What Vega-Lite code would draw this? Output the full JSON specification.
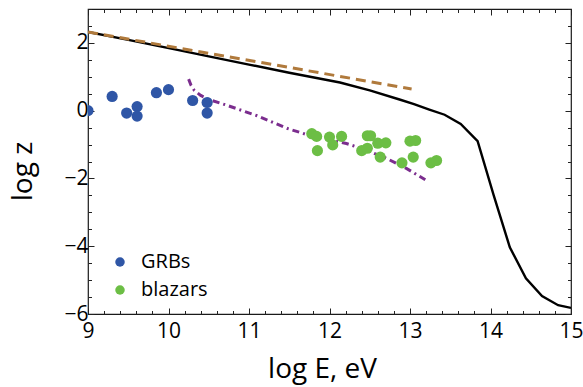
{
  "$schema": "https://vega.github.io/schema/vega-lite/v6.json",
  "width": 483,
  "height": 305,
  "autosize": {"type": "none"},
  "padding": {"left": 88, "top": 9, "right": 12, "bottom": 73},
  "config": {
    "font": "Open Sans",
    "view": {"stroke": "#1a1a1a", "strokeWidth": 1.2}
  },
  "datasets": {
    "curves": [
      {"curve": "model", "x": 9.0, "y": 2.32},
      {"curve": "model", "x": 9.5, "y": 2.09},
      {"curve": "model", "x": 10.08, "y": 1.81},
      {"curve": "model", "x": 10.5, "y": 1.6},
      {"curve": "model", "x": 11.0, "y": 1.36},
      {"curve": "model", "x": 11.5, "y": 1.12},
      {"curve": "model", "x": 12.13, "y": 0.83},
      {"curve": "model", "x": 12.5, "y": 0.6},
      {"curve": "model", "x": 12.87, "y": 0.33},
      {"curve": "model", "x": 13.05, "y": 0.19},
      {"curve": "model", "x": 13.24, "y": 0.03},
      {"curve": "model", "x": 13.43, "y": -0.12},
      {"curve": "model", "x": 13.63, "y": -0.39},
      {"curve": "model", "x": 13.84, "y": -0.9},
      {"curve": "model", "x": 14.04, "y": -2.5},
      {"curve": "model", "x": 14.24, "y": -4.03},
      {"curve": "model", "x": 14.44, "y": -4.95},
      {"curve": "model", "x": 14.64, "y": -5.47},
      {"curve": "model", "x": 14.84, "y": -5.74},
      {"curve": "model", "x": 15.0, "y": -5.82},
      {"curve": "fit", "x": 9.0, "y": 2.32},
      {"curve": "fit", "x": 13.02, "y": 0.64},
      {"curve": "blazarfit", "x": 10.25, "y": 0.93},
      {"curve": "blazarfit", "x": 10.28, "y": 0.75},
      {"curve": "blazarfit", "x": 10.32, "y": 0.6},
      {"curve": "blazarfit", "x": 10.4, "y": 0.45},
      {"curve": "blazarfit", "x": 10.5, "y": 0.33},
      {"curve": "blazarfit", "x": 10.7, "y": 0.18},
      {"curve": "blazarfit", "x": 11.1, "y": -0.15},
      {"curve": "blazarfit", "x": 11.47, "y": -0.52},
      {"curve": "blazarfit", "x": 11.71, "y": -0.7},
      {"curve": "blazarfit", "x": 12.21, "y": -0.97},
      {"curve": "blazarfit", "x": 12.42, "y": -1.13},
      {"curve": "blazarfit", "x": 12.71, "y": -1.41},
      {"curve": "blazarfit", "x": 12.96, "y": -1.71},
      {"curve": "blazarfit", "x": 13.19, "y": -2.04}
    ],
    "points": [
      {"type": "GRBs", "x": 9.0, "y": 0.0},
      {"type": "GRBs", "x": 9.3, "y": 0.42},
      {"type": "GRBs", "x": 9.48, "y": -0.07},
      {"type": "GRBs", "x": 9.61, "y": 0.12},
      {"type": "GRBs", "x": 9.61, "y": -0.16},
      {"type": "GRBs", "x": 9.85, "y": 0.53},
      {"type": "GRBs", "x": 10.0, "y": 0.62},
      {"type": "GRBs", "x": 10.3, "y": 0.3},
      {"type": "GRBs", "x": 10.48, "y": 0.24},
      {"type": "GRBs", "x": 10.48, "y": -0.07},
      {"type": "blazars", "x": 11.78, "y": -0.68},
      {"type": "blazars", "x": 11.84, "y": -0.76},
      {"type": "blazars", "x": 11.85, "y": -1.18},
      {"type": "blazars", "x": 12.0, "y": -0.78},
      {"type": "blazars", "x": 12.04, "y": -1.01},
      {"type": "blazars", "x": 12.15, "y": -0.76},
      {"type": "blazars", "x": 12.47, "y": -0.74},
      {"type": "blazars", "x": 12.51, "y": -0.74},
      {"type": "blazars", "x": 12.4, "y": -1.18},
      {"type": "blazars", "x": 12.47, "y": -1.11},
      {"type": "blazars", "x": 12.6, "y": -0.96},
      {"type": "blazars", "x": 12.7, "y": -0.95},
      {"type": "blazars", "x": 12.63, "y": -1.37},
      {"type": "blazars", "x": 12.9, "y": -1.54},
      {"type": "blazars", "x": 13.0, "y": -0.9},
      {"type": "blazars", "x": 13.07, "y": -0.88},
      {"type": "blazars", "x": 13.04, "y": -1.37},
      {"type": "blazars", "x": 13.26, "y": -1.54},
      {"type": "blazars", "x": 13.33, "y": -1.47}
    ]
  },
  "layer": [
    {
      "data": {"name": "curves"},
      "transform": [{"filter": "datum.curve === 'model'"}],
      "mark": {"type": "line", "color": "black", "strokeWidth": 2.4, "clip": true},
      "encoding": {
        "x": {
          "field": "x", "type": "quantitative",
          "scale": {"domain": [9, 15], "nice": false, "zero": false},
          "axis": {
            "orient": "bottom",
            "values": [9, 9.2, 9.4, 9.6, 9.8, 10, 10.2, 10.4, 10.6, 10.8, 11, 11.2, 11.4, 11.6, 11.8, 12, 12.2, 12.4, 12.6, 12.8, 13, 13.2, 13.4, 13.6, 13.8, 14, 14.2, 14.4, 14.6, 14.8, 15],
            "labelExpr": "abs(datum.value - round(datum.value)) < 0.01 ? format(datum.value, 'd') : ''",
            "tickSize": {"condition": {"test": "abs(datum.value - round(datum.value)) < 0.01", "value": -6}, "value": -3.5},
            "tickColor": "#222", "tickWidth": 1,
            "domain": false, "grid": false,
            "labelFontSize": 21, "labelColor": "black", "labelPadding": 12,
            "labelOverlap": false, "labelFlush": false,
            "title": "log E, eV", "titleFontSize": 28, "titleFontWeight": "normal",
            "titleColor": "black", "titlePadding": 12, "titleX": 234
          }
        },
        "y": {
          "field": "y", "type": "quantitative",
          "scale": {"domain": [-6, 3], "nice": false, "zero": false},
          "axis": {
            "orient": "left",
            "values": [-6, -5.5, -5, -4.5, -4, -3.5, -3, -2.5, -2, -1.5, -1, -0.5, 0, 0.5, 1, 1.5, 2, 2.5, 3],
            "labelExpr": "abs(datum.value % 2) < 0.01 ? format(datum.value, 'd') : ''",
            "tickSize": {"condition": {"test": "abs(datum.value % 2) < 0.01", "value": -6}, "value": -3.5},
            "tickColor": "#222", "tickWidth": 1,
            "domain": false, "grid": false,
            "labelFontSize": 21, "labelColor": "black", "labelPadding": 6,
            "labelOverlap": false, "labelFlush": false,
            "title": "log z", "titleFontSize": 28, "titleFontWeight": "normal",
            "titleColor": "black", "titleX": -51, "titleY": 162
          }
        }
      }
    },
    {
      "data": {"name": "curves"},
      "transform": [{"filter": "datum.curve === 'fit'"}],
      "mark": {"type": "line", "color": "#B07A3C", "strokeWidth": 3, "strokeDash": [10, 6], "clip": true},
      "encoding": {
        "x": {
          "field": "x", "type": "quantitative",
          "scale": {"domain": [9, 15], "nice": false, "zero": false},
          "axis": {
            "orient": "top",
            "values": [9, 9.2, 9.4, 9.6, 9.8, 10, 10.2, 10.4, 10.6, 10.8, 11, 11.2, 11.4, 11.6, 11.8, 12, 12.2, 12.4, 12.6, 12.8, 13, 13.2, 13.4, 13.6, 13.8, 14, 14.2, 14.4, 14.6, 14.8, 15],
            "labels": false,
            "tickSize": {"condition": {"test": "abs(datum.value - round(datum.value)) < 0.01", "value": -6}, "value": -3.5},
            "tickColor": "#222", "tickWidth": 1,
            "domain": false, "grid": false, "title": null
          }
        },
        "y": {
          "field": "y", "type": "quantitative",
          "scale": {"domain": [-6, 3], "nice": false, "zero": false},
          "axis": {
            "orient": "right",
            "values": [-6, -5.5, -5, -4.5, -4, -3.5, -3, -2.5, -2, -1.5, -1, -0.5, 0, 0.5, 1, 1.5, 2, 2.5, 3],
            "labels": false,
            "tickSize": {"condition": {"test": "abs(datum.value % 2) < 0.01", "value": -6}, "value": -3.5},
            "tickColor": "#222", "tickWidth": 1,
            "domain": false, "grid": false, "title": null
          }
        }
      }
    },
    {
      "data": {"name": "curves"},
      "transform": [{"filter": "datum.curve === 'blazarfit'"}],
      "mark": {"type": "line", "color": "#7B2D8E", "strokeWidth": 3, "strokeDash": [7, 4, 2, 4], "clip": true},
      "encoding": {
        "x": {"field": "x", "type": "quantitative", "scale": {"domain": [9, 15], "nice": false, "zero": false}, "axis": null},
        "y": {"field": "y", "type": "quantitative", "scale": {"domain": [-6, 3], "nice": false, "zero": false}, "axis": null}
      }
    },
    {
      "data": {"name": "points"},
      "mark": {"type": "circle", "size": 125, "opacity": 1, "clip": true},
      "encoding": {
        "x": {"field": "x", "type": "quantitative", "scale": {"domain": [9, 15], "nice": false, "zero": false}, "axis": null},
        "y": {"field": "y", "type": "quantitative", "scale": {"domain": [-6, 3], "nice": false, "zero": false}, "axis": null},
        "color": {
          "field": "type", "type": "nominal",
          "scale": {"domain": ["GRBs", "blazars"], "range": ["#2F56A6", "#6CBE45"]},
          "legend": {
            "orient": "none", "legendX": 22, "legendY": 243,
            "title": null, "symbolType": "circle", "symbolSize": 90, "symbolOpacity": 1,
            "labelFontSize": 20, "labelColor": "black", "labelOffset": 11,
            "rowPadding": 8
          }
        }
      }
    }
  ],
  "resolve": {"axis": {"x": "independent", "y": "independent"}}
}
